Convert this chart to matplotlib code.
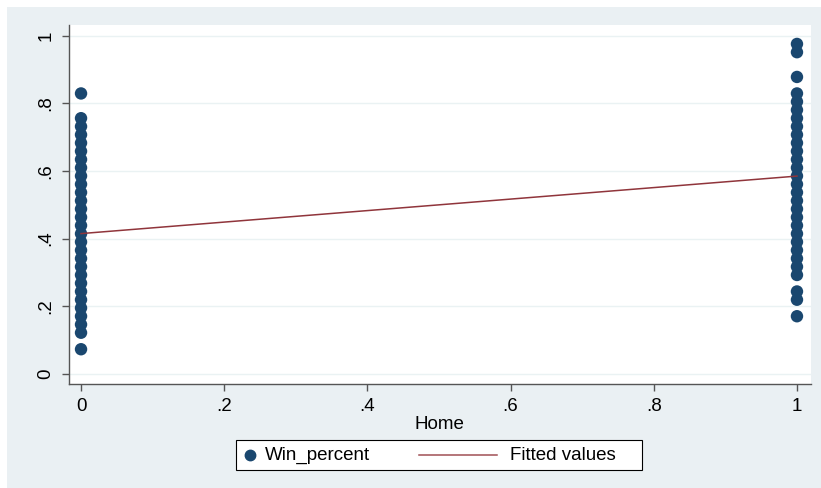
import matplotlib
matplotlib.use("Agg")
import matplotlib.pyplot as plt
from matplotlib.lines import Line2D
from matplotlib.patches import Rectangle

# ---- data (win percentages, k/41 games) ----
away_wins = [3] + list(range(5, 32)) + [34]
home_wins = [7, 9, 10] + list(range(12, 35)) + [36, 39, 40]
games = 41
home_away = [0, 1]
fitted_values = [0.415, 0.585]
x_ticks = [0, 0.2, 0.4, 0.6, 0.8, 1]
x_tick_labels = ["0", ".2", ".4", ".6", ".8", "1"]
y_ticks = [0, 0.2, 0.4, 0.6, 0.8, 1]
y_tick_labels = ["0", ".2", ".4", ".6", ".8", "1"]
legend_labels = ["Win_percent", "Fitted values"]

win_x = [0] * len(away_wins) + [1] * len(home_wins)
win_y = [w / games for w in away_wins] + [w / games for w in home_wins]

plt.rcParams['font.family'] = ['Liberation Sans', 'DejaVu Sans']

W, H = 821, 488
dot_color = "#1a476f"
line_color = "#90353b"
fs = 13.5

fig = plt.figure(figsize=(W / 100, H / 100), dpi=100)
fig.patch.set_facecolor("white")
bg = "#eaf0f3"
fig.patches.append(Rectangle((7 / W, 0), 1 - 7 / W, 1 - 7 / H, transform=fig.transFigure,
                             facecolor=bg, edgecolor="none", zorder=-10))

left, right, top, bottom = 68.5, 811, 25, 384
ax = fig.add_axes([left / W, 1 - bottom / H, (right - left) / W, (bottom - top) / H])
ax.set_facecolor("white")

ax.set_xlim(-0.0175, 1.0196)
ax.set_ylim(-0.0296, 1.0316)

for yv in y_ticks:
    ax.axhline(yv, color="#eaf2f3", lw=1.0, zorder=0)

ax.scatter(win_x, win_y, s=80, color=dot_color, edgecolors="none", zorder=3)
ax.plot(home_away, fitted_values, color=line_color, lw=1.1, zorder=4)

for sp in ["top", "right"]:
    ax.spines[sp].set_visible(False)
for sp in ["left", "bottom"]:
    ax.spines[sp].set_color("#555555")
    ax.spines[sp].set_linewidth(1.0)

ax.set_xticks(x_ticks)
ax.set_xticklabels(x_tick_labels, fontsize=fs)
ax.set_yticks(y_ticks)
ax.set_yticklabels(y_tick_labels, fontsize=fs, rotation=90, va="center")
ax.tick_params(axis="both", direction="out", length=5, width=1, color="#555555",
               labelcolor="black", pad=5)
ax.set_xlabel("Home", fontsize=fs, labelpad=1)

# ---- legend (drawn in figure pixel coordinates) ----
def fx(px):
    return px / W

def fy(py):
    return 1 - py / H

lb_l, lb_r, lb_t, lb_b = 236, 642, 440, 470
fig.patches.append(Rectangle((fx(lb_l), fy(lb_b)), fx(lb_r - lb_l), (lb_b - lb_t) / H,
                             transform=fig.transFigure, facecolor="white",
                             edgecolor="black", lw=0.8, zorder=5))
ymid = fy(455)
fig.add_artist(Line2D([fx(250)], [ymid], marker="o", ls="none", color=dot_color,
                      markersize=7.5, transform=fig.transFigure, zorder=6))
fig.text(fx(265), ymid, legend_labels[0], fontsize=fs, va="center", ha="left", zorder=6)
fig.add_artist(Line2D([fx(419), fx(497)], [ymid, ymid], color="#a05055", lw=1.1,
                      transform=fig.transFigure, zorder=6))
fig.text(fx(510), ymid, legend_labels[1], fontsize=fs, va="center", ha="left", zorder=6)

fig.savefig("out.png", dpi=100, facecolor=fig.get_facecolor())
